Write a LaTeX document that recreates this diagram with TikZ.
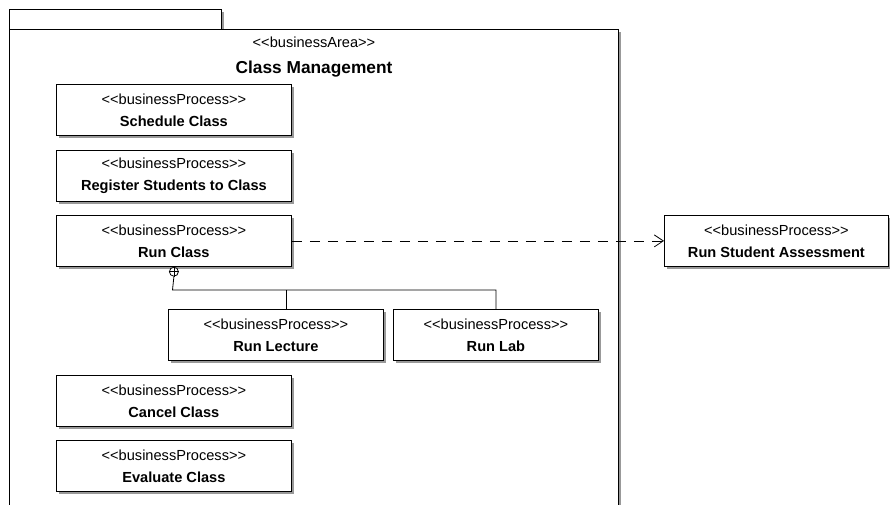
\documentclass[tikz,border=0pt]{standalone}
\usepackage{fontspec}
\newfontfamily\umlfont{Liberation Sans}
\usetikzlibrary{shadows,arrows.meta,positioning}
\tikzset{>=latex}

\newcommand{\stereo}[1]{<<#1>>}
\newcommand{\bproc}[1]{\stereo{businessProcess}\\\textbf{#1}}

\tikzset{
  shade box/.style={drop shadow={shadow xshift=3pt,shadow yshift=-3pt,fill=black!40,opacity=1}},
  proc/.style={draw,fill=white,line width=0.8pt,shade box,anchor=north west,
    minimum width=235pt,minimum height=51pt,inner sep=0pt,align=center,
    font=\umlfont\fontsize{14.6}{22}\selectfont},
  pkg/.style={draw,fill=white,line width=0.8pt,shade box},
  dep/.style={line width=0.8pt,dash pattern=on 10pt off 8pt,-{Straight Barb[length=9pt,width=12pt]}},
}

\begin{document}
\begin{tikzpicture}[x=1pt,y=-1pt]
       \path[use as bounding box,clip] (0,0) rectangle (890,504);
       % package with tab
       \path[pkg] (9,9) rectangle (221,29);
       \path[pkg] (9,29) rectangle (618,540);
       \node[font=\umlfont\fontsize{14.6}{17}\selectfont,anchor=base] (area) at (314,47) {\stereo{businessArea}};
       \node[font=\umlfont\fontsize{17.3}{20}\selectfont\bfseries,anchor=base] (title) at (314,73) {Class Management};
       % processes
       \node[proc] (sched) at (56,84) {\bproc{Schedule Class}};
       \node[proc] (reg) at (56,150) {\bproc{Register Students to Class}};
       \node[proc] (runc) at (56,215) {\bproc{Run Class}};
       \node[proc,minimum width=215pt] (lect) at (168,309) {\bproc{Run Lecture}};
       \node[proc,minimum width=205pt] (lab) at (393,309) {\bproc{Run Lab}};
       \node[proc] (cancel) at (56,375) {\bproc{Cancel Class}};
       \node[proc] (eval) at (56,440) {\bproc{Evaluate Class}};
       \node[proc,minimum width=224pt] (assess) at (664,215) {\bproc{Run Student Assessment}};
       % nesting
       \node[circle,draw,fill=white,line width=0.8pt,inner sep=0pt,minimum size=9pt,anchor=north] (nest) at (runc.south) {};
       \draw[line width=0.8pt] (nest.north) -- (nest.south);
       \draw[line width=0.8pt] (nest.west) -- (nest.east);
       \coordinate (jn) at (172.5,290);
       \draw[line width=0.8pt] (nest.south) -- (jn) -| (lab.north);
       \draw[line width=0.8pt] ([xshift=10pt]lect.north) -- ([xshift=10pt]lect.north |- jn);
       % dependency
       \draw[dep] (runc.east) -- (assess.west);
\end{tikzpicture}
\end{document}
